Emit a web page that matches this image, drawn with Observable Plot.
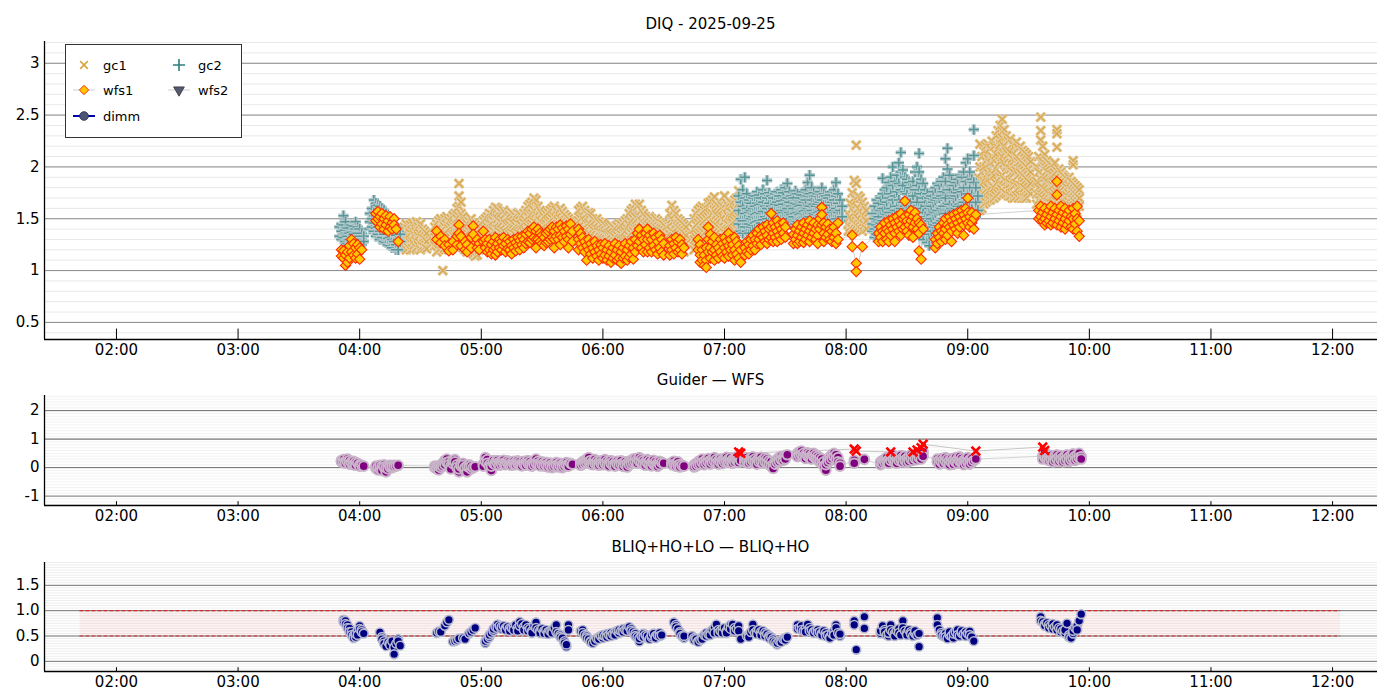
<!DOCTYPE html>
<html>
<head>
<meta charset="utf-8">
<script src="https://cdn.jsdelivr.net/npm/d3@7"></script>
<script src="https://cdn.jsdelivr.net/npm/@observablehq/plot@0.6"></script>
<style>
  body { margin: 0; background: #fff; font-family: "DejaVu Sans", sans-serif; }
  #wrap { position: relative; width: 1400px; height: 700px; overflow: hidden; }
  .ttl { position: absolute; left: 44px; width: 1333px; text-align: center; font-size: 15px; color: #000; line-height: 17px; }
  .pl { position: absolute; left: 0; }
</style>
</head>
<body>
<div id="wrap"></div>
<script>
// ---------- data ----------
const title1 = "DIQ - 2025-09-25";
const title2 = "Guider — WFS";
const title3 = "BLIQ+HO+LO — BLIQ+HO";
const xTickLabels = ["02:00","03:00","04:00","05:00","06:00","07:00","08:00","09:00","10:00","11:00","12:00"];
const xRange = ["01:24:30","12:22:10"];
const topTicks = [0.5,1,1.5,2,2.5,3];
const topTickLabels = ["0.5","1","1.5","2","2.5","3"];
const midTicks = [-1,0,1,2];
const midTickLabels = ["-1","0","1","2"];
const botTicks = [0,0.5,1,1.5];
const botTickLabels = ["0","0.5","1.0","1.5"];
const bandX = ["01:42","12:04"];
const bandY = [0.5, 1.0];
const legendNames = ["gc1","gc2","wfs1","wfs2","dimm"];

// each line: "HH:MM v1 v2 ..." (several samples in that minute)
const gc1 = [
"04:21 1.38 1.28 1.22","04:22 1.42 1.32 1.24","04:23 1.45 1.35 1.25 1.20","04:24 1.40 1.30 1.22","04:25 1.44 1.36 1.27 1.20",
"04:26 1.46 1.38 1.28 1.21","04:27 1.43 1.34 1.25","04:28 1.47 1.37 1.28 1.22","04:29 1.42 1.33 1.24","04:30 1.45 1.35 1.26 1.20",
"04:31 1.40 1.31 1.23","04:32 1.38 1.30 1.22","04:33 1.36 1.28 1.21",
"04:37 1.42 1.32 1.24","04:38 1.45 1.35 1.26 1.18","04:39 1.48 1.38 1.28 1.20","04:40 1.50 1.40 1.30 1.22","04:41 1.46 1.36 1.26 1.00",
"04:42 1.50 1.42 1.32 1.22","04:43 1.52 1.44 1.34 1.24","04:44 1.48 1.40 1.30 1.20","04:45 1.50 1.42 1.32 1.22","04:46 1.53 1.44 1.34 1.24",
"04:47 1.55 1.45 1.35 1.25","04:48 1.60 1.50 1.40 1.28","04:49 1.84 1.72 1.62 1.52 1.40","04:50 1.66 1.55 1.45 1.32","04:51 1.52 1.42 1.32 1.22",
"04:52 1.48 1.40 1.30 1.20","04:53 1.45 1.36 1.26 1.18","04:54 1.47 1.38 1.28 1.20","04:55 1.50 1.40 1.30 1.22","04:56 1.46 1.36 1.26 1.16",
"04:57 1.44 1.35 1.25 1.14","04:58 1.42 1.32 1.22 1.15","04:59 1.40 1.30 1.20",
"05:01 1.48 1.38 1.30","05:02 1.50 1.40 1.32","05:03 1.52 1.42 1.33 1.25","05:04 1.55 1.45 1.35 1.26","05:05 1.54 1.44 1.35 1.26",
"05:06 1.58 1.48 1.38 1.28","05:07 1.61 1.50 1.40 1.30","05:08 1.60 1.50 1.40 1.30","05:09 1.57 1.47 1.37 1.28","05:10 1.56 1.46 1.36 1.27",
"05:11 1.58 1.48 1.38 1.28","05:12 1.55 1.45 1.36 1.27","05:13 1.52 1.43 1.34 1.25","05:14 1.53 1.44 1.35 1.26","05:15 1.56 1.46 1.36 1.27",
"05:16 1.54 1.45 1.35 1.26","05:17 1.52 1.43 1.34 1.25","05:18 1.55 1.45 1.36 1.27","05:19 1.54 1.44 1.35 1.26","05:20 1.52 1.43 1.34 1.26",
"05:21 1.55 1.46 1.37 1.28","05:22 1.58 1.48 1.38 1.30","05:23 1.62 1.52 1.42 1.32","05:24 1.64 1.54 1.44 1.34","05:25 1.66 1.55 1.45 1.35",
"05:26 1.70 1.58 1.47 1.36","05:27 1.68 1.56 1.46 1.36","05:28 1.62 1.52 1.42 1.33","05:29 1.58 1.48 1.40 1.32","05:30 1.55 1.46 1.38 1.30",
"05:31 1.52 1.44 1.36 1.28","05:32 1.54 1.45 1.37 1.29","05:33 1.56 1.47 1.38 1.30","05:34 1.58 1.48 1.40 1.32","05:35 1.60 1.50 1.42 1.33",
"05:36 1.62 1.52 1.43 1.34","05:37 1.58 1.50 1.42 1.34","05:38 1.56 1.48 1.40 1.32","05:39 1.60 1.50 1.42 1.34","05:40 1.57 1.48 1.40 1.32",
"05:41 1.54 1.46 1.38 1.30","05:42 1.52 1.44 1.36 1.28","05:43 1.50 1.42 1.34 1.26","05:44 1.48 1.40 1.32","05:45 1.46 1.38 1.30",
"05:48 1.58 1.48 1.38 1.28","05:49 1.60 1.50 1.40 1.30","05:50 1.62 1.52 1.42 1.32","05:51 1.58 1.48 1.38 1.28","05:52 1.55 1.45 1.36 1.26",
"05:53 1.56 1.46 1.36 1.26","05:54 1.55 1.44 1.34 1.24","05:55 1.50 1.40 1.30 1.22","05:56 1.48 1.38 1.28 1.20","05:57 1.50 1.40 1.30 1.20",
"05:58 1.47 1.37 1.28 1.18","05:59 1.45 1.36 1.26 1.18","06:00 1.46 1.36 1.27 1.18","06:01 1.44 1.35 1.26 1.17","06:02 1.42 1.34 1.25 1.17",
"06:03 1.43 1.34 1.25 1.16","06:04 1.44 1.35 1.26 1.17","06:05 1.42 1.33 1.24 1.16","06:06 1.40 1.32 1.24 1.16","06:07 1.43 1.34 1.25 1.17",
"06:08 1.45 1.36 1.27 1.18","06:09 1.44 1.35 1.26 1.18","06:10 1.46 1.37 1.28 1.19","06:11 1.48 1.38 1.29 1.20","06:12 1.50 1.40 1.30 1.21",
"06:13 1.55 1.44 1.33 1.23","06:14 1.58 1.47 1.36 1.25","06:15 1.60 1.50 1.38 1.27","06:16 1.64 1.52 1.40 1.28","06:17 1.62 1.50 1.40 1.28",
"06:18 1.64 1.52 1.41 1.29","06:19 1.58 1.48 1.38 1.28","06:20 1.55 1.46 1.36 1.27","06:21 1.52 1.44 1.35 1.26","06:22 1.50 1.42 1.34 1.25",
"06:23 1.52 1.43 1.34 1.25","06:24 1.50 1.42 1.33 1.24","06:25 1.48 1.40 1.32 1.24","06:26 1.50 1.42 1.33 1.24","06:27 1.48 1.40 1.32 1.23",
"06:28 1.46 1.38 1.30 1.22","06:29 1.45 1.37 1.29 1.21","06:30 1.44 1.36 1.28 1.20","06:31 1.42 1.34 1.26",
"06:33 1.55 1.45 1.35 1.26","06:34 1.63 1.50 1.38 1.28","06:35 1.58 1.48 1.36 1.26","06:36 1.55 1.45 1.35 1.25","06:37 1.50 1.42 1.32 1.24",
"06:38 1.48 1.40 1.30 1.22","06:39 1.46 1.38 1.28 1.20","06:40 1.44 1.36 1.27 1.18","06:41 1.42 1.34 1.26",
"06:45 1.50 1.40 1.30 1.20","06:46 1.55 1.44 1.32 1.22","06:47 1.58 1.46 1.34 1.24","06:48 1.60 1.48 1.36 1.25","06:49 1.62 1.50 1.38 1.26",
"06:50 1.58 1.48 1.36 1.25","06:51 1.60 1.50 1.38 1.26","06:52 1.65 1.52 1.40 1.28","06:53 1.66 1.54 1.42 1.30","06:54 1.68 1.55 1.43 1.31",
"06:55 1.71 1.58 1.45 1.32","06:56 1.64 1.54 1.43 1.32","06:57 1.62 1.52 1.42 1.32","06:58 1.60 1.50 1.40 1.30","06:59 1.62 1.52 1.42 1.32",
"07:00 1.72 1.60 1.48 1.36","07:01 1.65 1.55 1.45 1.35","07:02 1.62 1.52 1.44 1.35","07:03 1.66 1.56 1.46 1.36","07:04 1.64 1.55 1.46 1.37",
"07:05 1.68 1.58 1.48 1.38","07:06 1.70 1.60 1.50 1.40","07:07 1.77 1.65 1.52 1.42",
"08:01 1.55 1.45 1.38","08:02 1.65 1.52 1.42","08:03 1.75 1.60 1.48 1.40","08:04 1.87 1.70 1.56 1.45","08:05 2.21 1.84 1.68 1.54 1.44",
"08:06 1.72 1.60 1.50 1.42","08:07 1.70 1.58 1.48 1.40","08:08 1.66 1.55 1.46 1.38","08:09 1.62 1.52 1.44","08:10 1.58 1.48 1.40",
"09:05 1.90 1.80 1.70 1.62","09:06 2.22 2.00 1.88 1.76 1.66 1.58","09:07 2.10 1.95 1.82 1.70 1.60","09:08 2.15 2.00 1.86 1.74 1.64","09:09 2.20 2.05 1.90 1.78 1.66",
"09:10 2.22 2.08 1.94 1.80 1.68","09:11 2.18 2.04 1.90 1.78 1.68","09:12 2.25 2.10 1.95 1.82 1.70","09:13 2.20 2.06 1.92 1.80 1.70","09:14 2.30 2.12 1.98 1.84 1.72",
"09:15 2.35 2.18 2.02 1.86 1.74","09:16 2.40 2.22 2.05 1.90 1.76","09:17 2.46 2.35 2.28 2.10 1.92 1.78","09:18 2.36 2.20 2.04 1.88 1.75","09:19 2.30 2.15 2.00 1.86 1.74",
"09:20 2.25 2.12 1.98 1.84 1.72","09:21 2.27 2.14 1.98 1.84 1.72","09:22 2.22 2.08 1.95 1.82 1.70","09:23 2.20 2.06 1.94 1.82 1.70","09:24 2.24 2.10 1.96 1.84 1.72",
"09:25 2.18 2.05 1.92 1.80 1.70","09:26 2.20 2.06 1.94 1.82 1.72","09:27 2.16 2.04 1.92 1.80 1.70","09:28 2.14 2.02 1.90 1.80 1.70","09:29 2.12 2.00 1.88 1.78 1.70",
"09:30 2.10 1.98 1.86 1.76","09:31 2.05 1.95 1.84 1.74",
"09:34 2.00 1.86 1.74 1.64","09:35 2.10 1.95 1.80 1.68","09:36 2.48 2.35 2.26 2.05 1.88 1.74","09:37 2.20 2.05 1.92 1.80 1.70","09:38 2.12 2.00 1.90 1.78 1.68",
"09:39 2.06 1.96 1.86 1.76 1.66","09:40 2.04 1.94 1.84 1.74 1.66","09:41 2.02 1.92 1.82 1.72 1.64","09:42 2.00 1.92 1.82 1.72 1.64","09:43 2.04 1.94 1.84 1.74 1.64",
"09:44 2.36 2.32 2.19 1.96 1.86 1.76 1.66","09:45 1.98 1.88 1.78 1.70 1.62","09:46 1.95 1.86 1.76 1.68 1.60","09:47 1.92 1.84 1.74 1.66 1.58","09:48 1.90 1.82 1.72 1.64 1.58",
"09:49 1.88 1.80 1.72 1.64 1.56","09:50 1.90 1.82 1.74 1.66 1.58","09:51 1.86 1.78 1.70 1.62","09:52 2.06 2.02 1.84 1.76 1.68 1.60","09:53 1.82 1.74 1.66 1.58",
"09:54 1.80 1.72 1.64 1.56","09:55 1.78 1.70 1.62"
];

const gc2 = [
"03:50 1.42 1.33","03:51 1.45 1.38 1.30","03:52 1.53 1.44 1.32","03:53 1.47 1.39 1.28","03:54 1.41 1.33 1.26","03:55 1.36 1.30 1.25",
"03:56 1.44 1.37 1.29","03:57 1.43 1.35 1.28","03:58 1.47 1.40 1.32","03:59 1.42 1.36 1.30","04:00 1.40 1.33 1.27","04:01 1.36 1.30 1.25","04:02 1.33 1.28",
"04:05 1.55 1.47 1.40","04:06 1.60 1.50 1.42","04:07 1.68 1.56 1.46 1.38","04:08 1.65 1.53 1.41 1.33","04:09 1.63 1.50 1.42 1.35",
"04:10 1.62 1.48 1.38 1.30","04:11 1.60 1.50 1.40 1.32","04:12 1.58 1.46 1.35 1.28","04:13 1.55 1.45 1.35 1.27","04:14 1.52 1.41 1.31 1.25",
"04:15 1.50 1.42 1.32 1.24","04:16 1.48 1.38 1.30 1.22","04:17 1.45 1.36 1.28 1.22","04:18 1.42 1.34 1.25 1.20","04:19 1.38 1.30 1.20","04:20 1.35 1.28",
"07:07 1.72 1.58 1.45","07:08 1.88 1.66 1.50 1.38","07:09 1.78 1.62 1.48 1.36","07:10 1.90 1.70 1.55 1.42","07:11 1.74 1.60 1.48 1.38",
"07:12 1.68 1.56 1.45 1.36","07:13 1.65 1.58 1.50 1.42","07:14 1.70 1.60 1.52 1.44","07:15 1.72 1.62 1.54 1.46","07:16 1.76 1.65 1.55 1.47",
"07:17 1.73 1.63 1.56 1.48","07:18 1.70 1.64 1.55 1.46","07:19 1.78 1.66 1.57 1.49","07:20 1.74 1.62 1.52 1.45","07:21 1.87 1.70 1.60 1.50",
"07:22 1.75 1.65 1.56 1.47","07:23 1.72 1.62 1.54 1.46","07:24 1.70 1.60 1.53 1.45","07:25 1.74 1.64 1.55 1.48","07:26 1.76 1.66 1.57 1.49",
"07:27 1.72 1.63 1.55 1.46","07:28 1.78 1.67 1.58 1.50","07:29 1.75 1.64 1.56 1.48","07:30 1.80 1.68 1.58 1.49","07:31 1.84 1.70 1.60 1.50",
"07:32 1.76 1.66 1.56 1.46","07:33 1.72 1.62 1.54 1.44","07:34 1.70 1.60 1.52 1.42","07:35 1.77 1.65 1.55 1.45","07:36 1.74 1.64 1.56 1.47",
"07:37 1.70 1.62 1.54 1.46","07:38 1.73 1.63 1.55 1.45","07:39 1.76 1.66 1.57 1.48","07:40 1.78 1.68 1.58 1.49","07:41 1.85 1.72 1.60 1.50",
"07:42 1.92 1.74 1.62 1.52","07:43 1.80 1.68 1.58 1.48","07:44 1.75 1.64 1.55 1.46","07:45 1.72 1.62 1.54 1.45","07:46 1.74 1.64 1.56 1.47",
"07:47 1.76 1.66 1.57 1.48","07:48 1.80 1.68 1.58 1.50","07:49 1.74 1.64 1.55 1.46","07:50 1.72 1.62 1.53 1.44","07:51 1.70 1.60 1.52 1.43",
"07:52 1.73 1.63 1.54 1.45","07:53 1.76 1.66 1.56 1.47","07:54 1.78 1.68 1.58 1.49","07:55 1.85 1.72 1.60 1.50","07:56 1.74 1.65 1.56 1.46",
"07:57 1.68 1.58 1.48","07:58 1.62 1.52",
"08:13 1.55 1.45 1.38","08:14 1.62 1.50 1.40 1.32","08:15 1.68 1.55 1.44 1.35","08:16 1.65 1.52 1.42 1.34","08:17 1.70 1.58 1.46 1.36",
"08:18 1.89 1.74 1.60 1.48 1.38","08:19 1.78 1.64 1.52 1.40","08:20 1.80 1.66 1.54 1.42","08:21 1.85 1.70 1.56 1.44","08:22 1.90 1.74 1.60 1.46",
"08:23 2.00 1.82 1.68 1.56 1.44","08:24 1.86 1.72 1.58 1.45","08:25 1.92 1.76 1.62 1.48","08:26 2.04 1.84 1.68 1.52","08:27 2.14 1.95 1.78 1.60 1.46",
"08:28 1.97 1.82 1.66 1.50","08:29 1.90 1.76 1.62 1.48","08:30 1.88 1.74 1.60 1.46","08:31 1.85 1.70 1.58 1.44","08:32 1.80 1.68 1.55 1.42",
"08:33 1.86 1.72 1.58 1.45","08:34 1.95 1.78 1.62 1.47","08:35 2.00 1.82 1.66 1.50","08:36 2.13 1.95 1.78 1.60 1.46","08:37 1.88 1.74 1.60 1.46",
"08:38 1.84 1.70 1.56 1.42 1.30","08:39 1.78 1.66 1.52 1.38","08:40 1.74 1.62 1.50 1.36 1.27","08:41 1.70 1.60 1.48 1.35 1.24","08:42 1.72 1.62 1.50 1.38",
"08:43 1.76 1.66 1.54 1.42","08:44 1.80 1.68 1.56 1.44","08:45 1.84 1.70 1.58 1.46","08:46 1.82 1.70 1.58 1.46","08:47 1.86 1.72 1.60 1.48",
"08:48 1.90 1.76 1.62 1.50","08:49 2.08 1.86 1.70 1.55","08:50 2.18 1.98 1.78 1.62 1.48","08:51 1.92 1.78 1.64 1.50","08:52 1.86 1.72 1.60 1.47",
"08:53 1.82 1.70 1.58 1.45","08:54 1.85 1.72 1.60 1.48","08:55 1.88 1.75 1.62 1.50","08:56 1.92 1.78 1.64 1.50","08:57 1.90 1.76 1.62 1.49",
"08:58 1.95 1.80 1.66 1.52","08:59 2.04 1.86 1.70 1.55","09:00 2.08 1.90 1.74 1.58","09:01 1.95 1.80 1.66 1.52","09:02 1.88 1.74 1.60 1.48",
"09:03 2.36 2.11 1.85 1.70 1.55","09:04 1.80 1.66 1.52","09:05 1.72 1.58"
];

const wfs1 = [
"03:51 1.20 1.14","03:52 1.19 1.12","03:53 1.15 1.05","03:54 1.18 1.08","03:55 1.24 1.12","03:56 1.30 1.18","03:57 1.26 1.15",
"03:58 1.22 1.12","03:59 1.25 1.16","04:00 1.22 1.11","04:01 1.20",
"04:08 1.55 1.48","04:09 1.57 1.50","04:10 1.52 1.42","04:11 1.55 1.45","04:12 1.50 1.40","04:13 1.53 1.44","04:14 1.48 1.38",
"04:15 1.52 1.42","04:16 1.46 1.40","04:17 1.50 1.44","04:18 1.40","04:19 1.28",
"04:38 1.38 1.30","04:40 1.33 1.27","04:42 1.30 1.24","04:44 1.25 1.19","04:46 1.20 1.28","04:48 1.25 1.33","04:49 1.44 1.36",
"04:50 1.33 1.24","04:52 1.28 1.20","04:53 1.25 1.18","04:55 1.32 1.22","04:56 1.43 1.35","04:58 1.30 1.22","04:59 1.26 1.20",
"05:01 1.38 1.28","05:02 1.30 1.22","05:03 1.26 1.18","05:04 1.30 1.20","05:05 1.25 1.16","05:06 1.28 1.20","05:07 1.32 1.22 1.15",
"05:08 1.26 1.18","05:09 1.30 1.22","05:10 1.28 1.20","05:11 1.32 1.24","05:12 1.26 1.18","05:13 1.30 1.21","05:14 1.28 1.20",
"05:15 1.24 1.16","05:16 1.30 1.22","05:17 1.27 1.19","05:18 1.32 1.24","05:19 1.29 1.20","05:20 1.33 1.25","05:21 1.30 1.22",
"05:22 1.35 1.26","05:23 1.38 1.28","05:24 1.36 1.27","05:25 1.40 1.30","05:26 1.42 1.32","05:27 1.38 1.30 1.22","05:28 1.40 1.30",
"05:29 1.36 1.28","05:30 1.34 1.26","05:31 1.32 1.24","05:32 1.36 1.27","05:33 1.38 1.28","05:34 1.40 1.30","05:35 1.42 1.32",
"05:36 1.38 1.30 1.22","05:37 1.42 1.33","05:38 1.40 1.30","05:39 1.44 1.34 1.25","05:40 1.41 1.32","05:41 1.38 1.28","05:42 1.43 1.33",
"05:43 1.40 1.30 1.22","05:44 1.45 1.35","05:45 1.38 1.28",
"05:48 1.40 1.30 1.20","05:49 1.36 1.26","05:50 1.32 1.22","05:51 1.28 1.18","05:52 1.24 1.10","05:53 1.30 1.20","05:54 1.26 1.16",
"05:55 1.22 1.12","05:56 1.28 1.18","05:57 1.24 1.14","05:58 1.20 1.10","05:59 1.25 1.16","06:00 1.22 1.12","06:01 1.26 1.15",
"06:02 1.20 1.10","06:03 1.24 1.14","06:04 1.18 1.08","06:05 1.22 1.12","06:06 1.26 1.15","06:07 1.20 1.10","06:08 1.24 1.12",
"06:09 1.18 1.07","06:10 1.22 1.12","06:11 1.26 1.14","06:12 1.20 1.10","06:13 1.24 1.13","06:14 1.28 1.16","06:15 1.22 1.11",
"06:16 1.30 1.18","06:17 1.36 1.24","06:18 1.40 1.28","06:19 1.34 1.22","06:20 1.30 1.18","06:21 1.36 1.25","06:22 1.40 1.30 1.18",
"06:23 1.34 1.22","06:24 1.30 1.18","06:25 1.36 1.24","06:26 1.32 1.20","06:27 1.28 1.16","06:28 1.34 1.22","06:29 1.30 1.18","06:30 1.26 1.15",
"06:33 1.24 1.15","06:34 1.30 1.20","06:35 1.26 1.16","06:36 1.32 1.22","06:37 1.28 1.18","06:38 1.30 1.20","06:39 1.25 1.16","06:40 1.22",
"06:47 1.30 1.20","06:48 1.25 1.15 1.08","06:49 1.20 1.10","06:50 1.15 1.05","06:51 1.22 1.10 1.03","06:52 1.42 1.30 1.18","06:53 1.35 1.22 1.12",
"06:54 1.28 1.18","06:55 1.32 1.20 1.10","06:56 1.25 1.15","06:57 1.22 1.12","06:58 1.30 1.18","06:59 1.26 1.14","07:00 1.32 1.22 1.12",
"07:01 1.28 1.18","07:02 1.36 1.24 1.14","07:03 1.30 1.20","07:04 1.25 1.15","07:05 1.32 1.20 1.10","07:06 1.28 1.16","07:07 1.24 1.12","07:08 1.20 1.08",
"07:10 1.22 1.15","07:11 1.28 1.18","07:12 1.25 1.16","07:13 1.30 1.20","07:14 1.34 1.24","07:15 1.30 1.20","07:16 1.36 1.26",
"07:17 1.40 1.30","07:18 1.34 1.25","07:19 1.42 1.32","07:20 1.38 1.28","07:21 1.44 1.34 1.26","07:22 1.40 1.30","07:23 1.55 1.42 1.32",
"07:24 1.46 1.36 1.28","07:25 1.42 1.32","07:26 1.48 1.38 1.28","07:27 1.44 1.34","07:28 1.40 1.30","07:29 1.46 1.36","07:30 1.42 1.32",
"07:34 1.35 1.26","07:35 1.40 1.30","07:36 1.44 1.34 1.26","07:37 1.38 1.28","07:38 1.42 1.32","07:39 1.46 1.36 1.27","07:40 1.40 1.30",
"07:41 1.44 1.34","07:42 1.48 1.38 1.28","07:43 1.42 1.32","07:44 1.46 1.36","07:45 1.40 1.30","07:46 1.44 1.34 1.26","07:47 1.50 1.40",
"07:48 1.61 1.54 1.44","07:49 1.46 1.36 1.28","07:50 1.42 1.32","07:51 1.45 1.35","07:52 1.40 1.30","07:53 1.38 1.28","07:54 1.42 1.32",
"07:55 1.36 1.26","07:56 1.46 1.30",
"08:03 1.34 1.23","08:05 1.07 0.99","08:08 1.23",
"08:16 1.36 1.28","08:17 1.42 1.32","08:18 1.38 1.28","08:19 1.46 1.36","08:20 1.40 1.30","08:21 1.48 1.38 1.28","08:22 1.44 1.34",
"08:23 1.50 1.40","08:24 1.46 1.36 1.28","08:25 1.52 1.42","08:26 1.48 1.38","08:27 1.55 1.44 1.34","08:28 1.50 1.40","08:29 1.67 1.52 1.42",
"08:30 1.48 1.38","08:31 1.54 1.44 1.34","08:32 1.58 1.48","08:33 1.52 1.42 1.32","08:34 1.56 1.46","08:35 1.50 1.40","08:36 1.46 1.36 1.19",
"08:37 1.44 1.11","08:38 1.40",
"08:44 1.30 1.22","08:45 1.36 1.26","08:46 1.42 1.32","08:47 1.38 1.28","08:48 1.46 1.36","08:49 1.50 1.40 1.30","08:50 1.44 1.34",
"08:51 1.52 1.42","08:52 1.48 1.38 1.28","08:53 1.54 1.44","08:54 1.50 1.40","08:55 1.56 1.46 1.36","08:56 1.52 1.42","08:57 1.58 1.48",
"08:58 1.54 1.44 1.34","08:59 1.60 1.50","09:00 1.70 1.56 1.46","09:01 1.52 1.42","09:02 1.56 1.46","09:03 1.50 1.40","09:04 1.54",
"09:35 1.58 1.50","09:36 1.62 1.52","09:37 1.56 1.48","09:38 1.60 1.50 1.44","09:39 1.54 1.46","09:40 1.58 1.48","09:41 1.62 1.52 1.44",
"09:42 1.56 1.46","09:43 1.60 1.50","09:44 1.86 1.73 1.54 1.44","09:45 1.58 1.48","09:46 1.62 1.52 1.42","09:47 1.56 1.46","09:48 1.60 1.50 1.40",
"09:49 1.54 1.44","09:50 1.58 1.48","09:51 1.52 1.42","09:52 1.60 1.50 1.40","09:53 1.55 1.45","09:54 1.62 1.50 1.38","09:55 1.48 1.33"
];

const guider = [
"03:51 0.25 0.20","03:52 0.28 0.18","03:53 0.22 0.15","03:54 0.30 0.20","03:55 0.25 0.12","03:56 0.20 0.15","03:57 0.22 0.10",
"03:58 0.18 0.08","03:59 0.15","04:00 0.10 0.05","04:01 0.08","04:02 0.05",
"04:08 -0.02 0.05","04:09 -0.08 0.02","04:10 -0.05 0.08","04:11 0.05 -0.10","04:12 0.10 0.02","04:13 -0.15 0.00","04:14 0.06 -0.05",
"04:15 0.08 0.02","04:16 0.00 0.05","04:17 0.08 0.03","04:18 0.05","04:19 0.08",
"04:37 0.05 0.00","04:38 0.02 -0.05","04:39 -0.08 0.05","04:40 0.00 0.10","04:41 0.15 0.05","04:42 0.25 0.10","04:43 0.30 0.18",
"04:44 0.20 0.10","04:45 0.05 -0.05","04:46 0.15 0.25","04:47 0.28 0.20","04:48 0.10 0.00","04:49 -0.15 -0.05","04:50 0.05 0.12",
"04:51 0.15 0.08","04:52 -0.10 0.00","04:53 -0.15 0.05","04:54 0.10 0.02","04:55 -0.05 0.05","04:56 0.00","04:57 0.03",
"05:01 0.12 0.05","05:02 0.35 0.22","05:03 0.28 0.15","05:04 0.10 0.02","05:05 -0.10 0.05","05:06 0.15 0.25","05:07 0.20 0.10",
"05:08 0.25 0.15","05:09 0.18 0.08","05:10 0.22 0.12","05:11 0.26 0.15","05:12 0.18 0.10","05:13 0.24 0.14","05:14 0.20 0.10",
"05:15 0.15 0.08","05:16 0.22 0.12","05:17 0.18 0.10","05:18 0.24 0.14","05:19 0.20 0.10","05:20 0.15 0.06","05:21 0.22 0.12",
"05:22 0.18 0.08","05:23 0.25 0.15","05:24 0.20 0.10","05:25 0.14 0.05","05:26 0.18 0.10","05:27 0.30 0.15","05:28 0.22 0.12",
"05:29 0.16 0.06","05:30 0.20 0.10","05:31 0.15 0.05","05:32 0.18 0.08","05:33 0.12 0.02","05:34 0.16 0.06","05:35 0.10 0.00",
"05:36 0.14 0.04","05:37 0.18 0.08","05:38 0.12 0.02","05:39 0.15 0.05","05:40 0.10 0.00","05:41 0.14 0.04","05:42 0.18 0.08",
"05:43 0.12 0.05","05:44 0.15","05:45 0.12",
"05:49 0.15 0.08","05:50 0.20 0.12","05:51 0.25 0.15","05:52 0.30 0.18","05:53 0.35 0.20","05:54 0.25 0.12","05:55 0.20 0.10",
"05:56 0.28 0.15","05:57 0.22 0.12","05:58 0.18 0.08","05:59 0.24 0.14","06:00 0.20 0.10","06:01 0.28 0.15","06:02 0.22 0.10",
"06:03 0.18 0.06","06:04 0.25 0.14","06:05 0.20 0.08","06:06 0.15 0.05","06:07 0.22 0.12","06:08 0.18 0.08","06:09 0.24 0.12",
"06:10 0.16 0.04","06:11 0.20 0.10","06:12 0.14 0.02","06:13 0.22 0.10","06:14 0.26 0.14","06:15 0.30 0.18","06:16 0.32 0.20",
"06:17 0.28 0.15","06:18 0.35 0.22","06:19 0.30 0.18","06:20 0.25 0.12","06:21 0.20 0.08","06:22 0.28 0.15","06:23 0.24 0.10",
"06:24 0.18 0.06","06:25 0.26 0.12","06:26 0.20 0.08","06:27 0.15 0.04","06:28 0.22 0.10","06:29 0.18","06:30 0.15",
"06:34 0.18 0.10","06:35 0.22 0.12","06:36 0.15 0.05","06:37 0.20 0.08","06:38 0.12 0.02","06:39 0.08","06:40 0.05",
"06:45 0.10 0.02","06:46 0.15 0.05","06:47 0.20 0.10","06:48 0.25 0.12","06:49 0.30 0.18","06:50 0.22 0.10","06:51 0.28 0.15",
"06:52 0.32 0.20","06:53 0.25 0.12","06:54 0.30 0.18","06:55 0.35 0.22","06:56 0.28 0.15","06:57 0.24 0.12","06:58 0.30 0.18",
"06:59 0.26 0.14","07:00 0.32 0.20","07:01 0.36 0.22","07:02 0.30 0.18","07:03 0.34 0.20","07:04 0.28 0.15","07:05 0.32 0.20",
"07:06 0.38 0.25","07:07 0.30 0.18","07:08 0.25",
"07:10 0.30 0.20","07:11 0.35 0.22","07:12 0.28 0.15","07:13 0.32 0.20","07:14 0.38 0.25","07:15 0.30 0.18","07:16 0.25 0.12",
"07:17 0.32 0.20","07:18 0.36 0.22","07:19 0.28 0.15","07:20 0.34 0.20","07:21 0.30 0.16","07:22 0.24 0.10","07:23 0.20 0.05",
"07:24 0.10 -0.03","07:25 0.22 0.12","07:26 0.30 0.18","07:27 0.35 0.22","07:28 0.40 0.28","07:29 0.36 0.25","07:30 0.42 0.30","07:31 0.45",
"07:36 0.50 0.38","07:37 0.55 0.42","07:38 0.58 0.45","07:39 0.50 0.38","07:40 0.45 0.32","07:41 0.52 0.40","07:42 0.48 0.35",
"07:43 0.42 0.30","07:44 0.50 0.38","07:45 0.45 0.32","07:46 0.40 0.28","07:47 0.35 0.20","07:48 0.30 0.15","07:49 0.20 0.05",
"07:50 -0.09 0.10","07:51 0.30 0.18","07:52 0.38 0.25","07:53 0.45 0.32","07:54 0.50 0.38","07:55 0.45 0.30","07:56 0.35 0.20","07:57 0.15 0.05",
"08:04 0.26 0.15","08:09 0.29",
"08:17 0.10 0.20","08:18 0.25 0.15","08:19 0.30 0.20","08:20 0.35 0.22","08:21 0.28 0.15","08:22 0.40 0.25","08:23 0.45 0.30",
"08:24 0.35 0.20","08:25 0.30 0.15","08:26 0.38 0.25","08:27 0.42 0.28","08:28 0.35 0.20","08:29 0.40 0.25","08:30 0.32 0.18",
"08:31 0.38 0.22","08:32 0.45 0.30","08:33 0.40 0.25","08:34 0.48 0.32","08:35 0.42 0.28","08:36 0.50 0.35","08:37 0.45 0.30","08:38 0.55 0.40",
"08:45 0.30 0.20","08:46 0.25 0.12","08:47 0.32 0.20","08:48 0.28 0.15","08:49 0.35 0.22","08:50 0.30 0.15","08:51 0.25 0.10",
"08:52 0.32 0.18","08:53 0.28 0.12","08:54 0.35 0.20","08:55 0.30 0.15","08:56 0.38 0.22","08:57 0.32 0.18","08:58 0.25 0.10",
"08:59 0.30 0.15","09:00 0.35 0.20","09:01 0.28 0.12","09:02 0.32 0.18","09:03 0.25","09:04 0.30",
"09:37 0.40 0.30","09:38 0.55 0.35","09:39 0.45 0.30","09:40 0.38 0.25","09:41 0.42 0.28","09:42 0.35 0.20","09:43 0.40 0.25",
"09:44 0.45 0.30","09:45 0.38 0.22","09:46 0.42 0.28","09:47 0.35 0.20","09:48 0.40 0.25","09:49 0.45 0.30","09:50 0.38 0.22",
"09:51 0.42 0.28","09:52 0.48 0.32","09:53 0.40 0.25","09:54 0.45 0.30","09:55 0.50 0.35","09:56 0.38 0.30"
];

const wfsFlag = [
"07:07 0.55","07:08 0.50","08:04 0.65","08:05 0.58","08:22 0.55","08:33 0.55","08:35 0.62","08:37 0.70","08:38 0.82",
"09:04 0.58","09:37 0.72","09:38 0.60"
];

const bliq = [
"03:52 0.82 0.78","03:53 0.80 0.74","03:54 0.72 0.66","03:55 0.65 0.58","03:56 0.58 0.52","03:57 0.50 0.46","03:58 0.48 0.55",
"03:59 0.60 0.52","04:00 0.70 0.64","04:01 0.62 0.58","04:02 0.55",
"04:10 0.57","04:11 0.48 0.44","04:12 0.40 0.35","04:13 0.30","04:14 0.38","04:15 0.36 0.32","04:16 0.40","04:17 0.28 0.14",
"04:18 0.35","04:19 0.44 0.40","04:20 0.31",
"04:38 0.56","04:39 0.59","04:40 0.58","04:42 0.70","04:43 0.77","04:44 0.82","04:46 0.39","04:47 0.40","04:48 0.42","04:49 0.45",
"04:51 0.46","04:52 0.44","04:54 0.55","04:55 0.58","04:56 0.62","04:57 0.66",
"05:02 0.36 0.40","05:03 0.44","05:04 0.48 0.52","05:05 0.56","05:06 0.60 0.64","05:07 0.68","05:08 0.73 0.66","05:09 0.70",
"05:10 0.64 0.68","05:11 0.70","05:12 0.66 0.62","05:13 0.68","05:14 0.65 0.60","05:15 0.66","05:16 0.68 0.62","05:17 0.72",
"05:18 0.66 0.60","05:19 0.78 0.70","05:20 0.74","05:21 0.68 0.62","05:22 0.72","05:23 0.66 0.60","05:24 0.64","05:25 0.60 0.56",
"05:26 0.70","05:27 0.77 0.66","05:28 0.62","05:29 0.60 0.56","05:30 0.64","05:31 0.60 0.55","05:32 0.62","05:33 0.58 0.54",
"05:34 0.60","05:35 0.62 0.56","05:36 0.66","05:37 0.72 0.58","05:38 0.55","05:39 0.52 0.48","05:40 0.46","05:41 0.40 0.36",
"05:42 0.29 0.33","05:43 0.72 0.62",
"05:49 0.60","05:50 0.62 0.56","05:51 0.52","05:52 0.50 0.46","05:53 0.44","05:54 0.40 0.38","05:55 0.36","05:56 0.42 0.40",
"05:57 0.45","05:58 0.48 0.44","05:59 0.50","06:00 0.46 0.52","06:01 0.50","06:02 0.54 0.48","06:03 0.52","06:04 0.56 0.50",
"06:05 0.54","06:06 0.58 0.52","06:07 0.60","06:08 0.56 0.62","06:09 0.60","06:10 0.64 0.58","06:11 0.62","06:12 0.66 0.60",
"06:13 0.68","06:14 0.64 0.60","06:15 0.58","06:16 0.55 0.50","06:17 0.48","06:18 0.39 0.45","06:19 0.50","06:20 0.55 0.48",
"06:21 0.52","06:22 0.46 0.50","06:23 0.44","06:24 0.48 0.52","06:25 0.55","06:26 0.50 0.46","06:27 0.52","06:28 0.56 0.50","06:29 0.52",
"06:35 0.77","06:36 0.72 0.68","06:37 0.64","06:38 0.58 0.55","06:39 0.50","06:40 0.46 0.50",
"06:44 0.50","06:45 0.46 0.42","06:46 0.44","06:47 0.40 0.38","06:48 0.42","06:49 0.48 0.44","06:50 0.52","06:51 0.56 0.50",
"06:52 0.54","06:53 0.58 0.52","06:54 0.62","06:55 0.66 0.56","06:56 0.73","06:57 0.62 0.56","06:58 0.60","06:59 0.64 0.56",
"07:00 0.66","07:01 0.60 0.56","07:02 0.68","07:03 0.72 0.64","07:04 0.73","07:05 0.66 0.60","07:06 0.64","07:07 0.70 0.60","07:08 0.44",
"07:11 0.50","07:12 0.52 0.48","07:13 0.58","07:14 0.73 0.62","07:15 0.56","07:16 0.60 0.54","07:17 0.62","07:18 0.58 0.52",
"07:19 0.60","07:20 0.56 0.50","07:21 0.54","07:22 0.50 0.46","07:23 0.48","07:24 0.44 0.40","07:25 0.38","07:26 0.33 0.36",
"07:27 0.40","07:28 0.42 0.38","07:29 0.44","07:30 0.46 0.42","07:31 0.48",
"07:36 0.72 0.64","07:37 0.66","07:38 0.70 0.62","07:39 0.60","07:40 0.64 0.58","07:41 0.73","07:42 0.66 0.60","07:43 0.62",
"07:44 0.58 0.56","07:45 0.60","07:46 0.62 0.56","07:47 0.58","07:48 0.55 0.52","07:49 0.60","07:50 0.56 0.50","07:51 0.52",
"07:52 0.48 0.46","07:53 0.55","07:54 0.60 0.52","07:55 0.72 0.66","07:56 0.56","07:57 0.50 0.54",
"08:04 0.80 0.72","08:05 0.23","08:09 0.88 0.65",
"08:17 0.55 0.60","08:18 0.70","08:19 0.62 0.58","08:20 0.52","08:21 0.50 0.56","08:22 0.72 0.62","08:23 0.58","08:24 0.55 0.50",
"08:25 0.60","08:26 0.64 0.56","08:27 0.52","08:28 0.80 0.66","08:29 0.60","08:30 0.56 0.52","08:31 0.62","08:32 0.58 0.54",
"08:33 0.50","08:34 0.55 0.60","08:35 0.52","08:36 0.55 0.29",
"08:45 0.86 0.72","08:46 0.62","08:47 0.56 0.52","08:48 0.50","08:49 0.55 0.48","08:50 0.45","08:51 0.52 0.58","08:52 0.50",
"08:53 0.46 0.55","08:54 0.58","08:55 0.62 0.52","08:56 0.50","08:57 0.56 0.60","08:58 0.54","08:59 0.58 0.50","09:00 0.55",
"09:01 0.59 0.52","09:02 0.48","09:03 0.40",
"09:36 0.88 0.80","09:37 0.78","09:38 0.74 0.70","09:39 0.76","09:40 0.72 0.66","09:41 0.70","09:42 0.74 0.64","09:43 0.68",
"09:44 0.62 0.72","09:45 0.66","09:46 0.58 0.64","09:47 0.60","09:48 0.56 0.62","09:49 0.75","09:50 0.52 0.48","09:51 0.46",
"09:52 0.55 0.60","09:53 0.66","09:54 0.70 0.62","09:55 0.80","09:56 0.93"
];

// ---------- helpers ----------
const T = s => { const [h, m, sec = 0] = s.split(":").map(Number); return new Date(Date.UTC(2025, 8, 25, h, m, sec)); };
const rows = arr => arr.flatMap(line => { const [t, ...vs] = line.trim().split(/\s+/); return vs.map(v => ({t: T(t), v: +v})); });

const gc1D = rows(gc1), gc2D = rows(gc2), wfs1D = rows(wfs1);
const guiderD = rows(guider), flagD = rows(wfsFlag), bliqD = rows(bliq);

const xDomain = xRange.map(T);
const xTicks = xTickLabels.map(T);
const FONT = "DejaVu Sans";

function labeler(ticks, labels) { return v => { const i = ticks.findIndex(t => Math.abs(t - v) < 1e-9); return i >= 0 ? labels[i] : ""; }; }

function steps(a, b, s) { const out = []; for (let k = Math.round(a / s); k * s <= b + 1e-9; k++) out.push(+(k * s).toFixed(4)); return out; }

function frameMarks(yDom) {
  const span = yDom[1] - yDom[0];
  return [
    Plot.ruleX(xTicks, {x: d => d, y1: yDom[0], y2: yDom[0] + span * 0.035, stroke: "#000", strokeWidth: 1}),
    Plot.ruleY([yDom[0]], {stroke: "#000", strokeWidth: 1.3}),
    Plot.ruleX([xDomain[0]], {stroke: "#000", strokeWidth: 1.3})
  ];
}

function base(height, mt, mb, yDom, ticks, labels, marks) {
  return Plot.plot({
    width: 1400, height,
    marginTop: mt, marginBottom: mb, marginLeft: 44, marginRight: 23,
    style: {fontFamily: FONT, fontSize: "15px", color: "#000", background: "transparent", overflow: "visible"},
    x: {type: "utc", domain: xDomain, ticks: xTicks, tickFormat: d3.utcFormat("%H:%M"), tickSize: 0, tickPadding: 5, label: null},
    y: {domain: yDom, ticks, tickFormat: labeler(ticks, labels), tickSize: 0, tickPadding: 5, label: null},
    marks
  });
}

function addHalo(svg, desc, color, width) {
  svg.querySelectorAll(`g[aria-description="${desc}"]`).forEach(g => {
    [...g.querySelectorAll("path")].forEach(p => {
      const c = p.cloneNode(false);
      c.setAttribute("stroke", color);
      c.setAttribute("stroke-width", width);
      c.setAttribute("stroke-opacity", 1);
      p.parentNode.insertBefore(c, p);
    });
  });
}

const wrap = document.getElementById("wrap");
function place(el, top) { el.classList.add("pl"); el.style.top = top + "px"; wrap.appendChild(el); }
function title(text, top) { const d = document.createElement("div"); d.className = "ttl"; d.style.top = top + "px"; d.textContent = text; wrap.appendChild(d); }

// ---------- panel 1 ----------
const y1Dom = [0.335, 3.21];
const p1 = base(365, 41, 26, y1Dom, topTicks, topTickLabels, [
  Plot.ruleY(steps(0.4, 3.2, 0.1), {stroke: "#e2e2e2", strokeWidth: 0.8}),
  Plot.ruleY(steps(0.5, 3.0, 0.5), {stroke: "#8c8c8c", strokeWidth: 1}),
  Plot.line(wfs1D, {x: "t", y: "v", stroke: "#c4c4c4", strokeWidth: 0.8}),
  Plot.dot(gc1D, {x: "t", y: "v", symbol: "times", r: 4, stroke: "#daa540", strokeWidth: 1.6, strokeOpacity: 0.85, ariaDescription: "gc1"}),
  Plot.dot(gc2D, {x: "t", y: "v", symbol: "plus", r: 3.4, stroke: "#2f7f80", strokeWidth: 1.5, strokeOpacity: 0.7, ariaDescription: "gc2"}),
  Plot.dot(wfs1D, {x: "t", y: "v", symbol: "diamond2", r: 4.6, fill: "#ffc800", stroke: "#ff2a00", strokeWidth: 1.1}),
  ...frameMarks(y1Dom)
]);
addHalo(p1, "gc1", "#e4d2b2", 3.6);
addHalo(p1, "gc2", "#b6cbce", 4.2);
place(p1, 0);
title(title1, 16);

// ---------- panel 2 ----------
const y2Dom = [-1.33, 2.53];
const p2 = base(165, 30, 25, y2Dom, midTicks, midTickLabels, [
  Plot.ruleY(steps(-1.3, 2.5, 0.1), {stroke: "#ececec", strokeWidth: 0.7}),
  Plot.ruleY(steps(-0.5, 2.5, 1), {stroke: "#b4b4b4", strokeWidth: 1}),
  Plot.ruleY(midTicks, {stroke: "#777", strokeWidth: 1}),
  Plot.line(guiderD, {x: "t", y: "v", stroke: "#c8c8c8", strokeWidth: 0.8}),
  Plot.line(flagD, {x: "t", y: "v", stroke: "#c0c0c0", strokeWidth: 0.9}),
  Plot.dot(guiderD, {x: "t", y: "v", r: 4.8, fill: "#800080", stroke: "#c9b4c9", strokeWidth: 2}),
  Plot.dot(flagD, {x: "t", y: "v", symbol: "times", r: 4, stroke: "#ff0000", strokeWidth: 2.6}),
  ...frameMarks(y2Dom)
]);
place(p2, 365);
title(title2, 372);

// ---------- panel 3 ----------
const y3Dom = [-0.2, 1.95];
const p3 = base(170, 32, 29, y3Dom, botTicks, botTickLabels, [
  Plot.ruleY(steps(-0.15, 1.95, 0.05), {stroke: "#e6e6e6", strokeWidth: 0.7}),
  Plot.ruleY(botTicks, {stroke: "#777", strokeWidth: 1}),
  Plot.rect([0], {x1: () => T(bandX[0]), x2: () => T(bandX[1]), y1: () => bandY[0], y2: () => bandY[1], fill: "#ff0000", fillOpacity: 0.05}),
  Plot.ruleY(bandY, {x1: () => T(bandX[0]), x2: () => T(bandX[1]), stroke: "#c62828", strokeWidth: 1.2, strokeDasharray: "4,2"}),
  Plot.dot(bliqD, {x: "t", y: "v", r: 4.4, fill: "#000080", stroke: "#b5b9d0", strokeWidth: 1.6}),
  ...frameMarks(y3Dom)
]);
place(p3, 530);
title(title3, 539);

// ---------- legend (top panel) ----------
const lg = d3.create("svg").attr("width", 177).attr("height", 94)
  .style("position", "absolute").style("left", "65px").style("top", "44px");
lg.append("rect").attr("x", 0.5).attr("y", 0.5).attr("width", 176).attr("height", 93)
  .attr("fill", "#fff").attr("stroke", "#333").attr("stroke-width", 1);
const entries = [
  {name: legendNames[0], x: 19, y: 21, sym: d3.symbolTimes, size: 40, fill: "none", stroke: "#daa540", sw: 1.6, line: null},
  {name: legendNames[1], x: 114, y: 21, sym: d3.symbolPlus, size: 50, fill: "none", stroke: "#2f7f80", sw: 1.6, line: null},
  {name: legendNames[2], x: 19, y: 46, sym: d3.symbolDiamond2, size: 55, fill: "#ffc800", stroke: "#ff2a00", sw: 1, line: "#d0d0d0"},
  {name: legendNames[3], x: 114, y: 46, sym: d3.symbolTriangle, size: 50, fill: "#555a70", stroke: "#333", sw: 0.8, line: "#d0d0d0", rot: 180},
  {name: legendNames[4], x: 19, y: 72, sym: d3.symbolCircle, size: 60, fill: "#4a5578", stroke: "#2a2a50", sw: 0.8, line: "#0000aa", lw: 2}
];
entries.forEach(e => {
  if (e.line) lg.append("line").attr("x1", e.x - 11).attr("x2", e.x + 11).attr("y1", e.y).attr("y2", e.y)
    .attr("stroke", e.line).attr("stroke-width", e.lw || 1);
  lg.append("path").attr("d", d3.symbol().type(e.sym).size(e.size)())
    .attr("transform", `translate(${e.x},${e.y}) rotate(${e.rot || 0})`)
    .attr("fill", e.fill).attr("stroke", e.stroke).attr("stroke-width", e.sw);
  lg.append("text").attr("x", e.x + 19).attr("y", e.y + 5).attr("font-family", FONT).attr("font-size", 13)
    .attr("fill", "#000").text(e.name);
});
wrap.appendChild(lg.node());
</script>
</body>
</html>
